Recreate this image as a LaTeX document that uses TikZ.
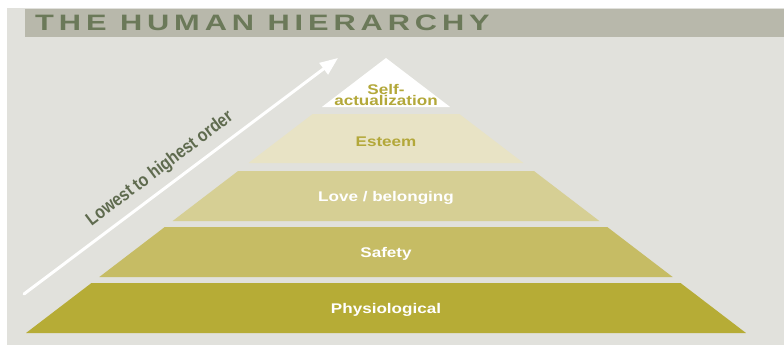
\documentclass[tikz,border=0pt]{standalone}
\usepackage{fontspec}
\setmainfont{Liberation Sans}
\newfontfamily\headfont[FakeStretch=1.38,LetterSpace=22]{Liberation Sans Bold}
\newfontfamily\tagfont[FakeStretch=1.22]{Liberation Sans Bold}
\newfontfamily\axisfont[FakeStretch=0.85]{Liberation Sans Bold}
\usetikzlibrary{arrows.meta}
\definecolor{paper}{HTML}{E1E1DC}
\definecolor{headbar}{HTML}{B8B8AB}
\definecolor{headtext}{HTML}{6B7959}
\definecolor{axistext}{HTML}{5F6B4F}
\definecolor{olive}{HTML}{B3A83A}
\definecolor{physio}{HTML}{B6AC36}
\definecolor{safety}{HTML}{C6BC64}
\definecolor{love}{HTML}{D6CF94}
\definecolor{esteem}{HTML}{E8E3C5}
\tikzset{tag/.style={font=\tagfont\fontsize{14}{10}\selectfont,
    text=white,inner sep=0pt,align=center},
  arrow/.style={-{Triangle[length=18pt,width=14pt]},line width=3pt,line cap=round,white}}

\begin{document}
\begin{tikzpicture}[x=1pt,y=-1pt]
  \path[use as bounding box] (0,0) rectangle (784,345);
  \fill[paper] (7,8) rectangle (784,345);
  \fill[headbar] (25,9) rectangle (784,37);
  \node[anchor=base west,inner sep=0pt,text=headtext,
    font=\headfont\fontsize{22.3}{24}\selectfont] (title) at (35,31) {THE HUMAN HIERARCHY};
  % pyramid: half width grows 1.309 per unit below the apex at y=58
  \foreach \ya/\yb/\c in {58/107/white,114/163/esteem,171/221/love,227/277/safety,283/333/physio}{
    \pgfmathsetmacro{\wa}{1.309*(\ya-58)}
    \pgfmathsetmacro{\wb}{1.309*(\yb-58)}
    \fill[\c] ({386-\wa},\ya) -- ({386+\wa},\ya) -- ({386+\wb},\yb) -- ({386-\wb},\yb) -- cycle;
  }
  \node[tag,anchor=base] (physio) at (386,313) {Physiological};
  \node[tag,anchor=base] (safety) at (386,257) {Safety};
  \node[tag,anchor=base] (love) at (386,201) {Love / belonging};
  \node[tag,anchor=base,text=olive] (esteem) at (386,146) {Esteem};
  \node[tag,text=olive] (self) at (386,95) {Self-\\[-0.6pt]actualization};
  % order arrow
  \coordinate (low) at (24,294);
  \coordinate (high) at (338,58);
  \draw[arrow] (low) -- (high)
    node[pos=.468,sloped,above=8pt,inner sep=0pt,text=axistext,
      font=\axisfont\fontsize{18.5}{20}\selectfont] (order) {Lowest to highest order};
\end{tikzpicture}
\end{document}
